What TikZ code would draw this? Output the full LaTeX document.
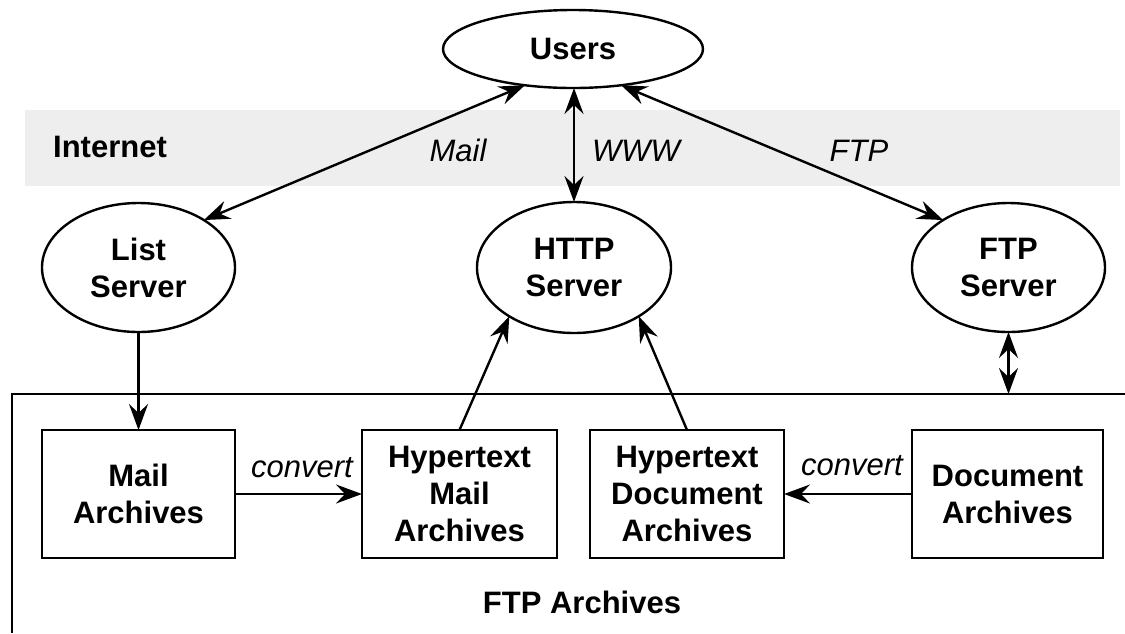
\documentclass[tikz,border=0pt]{standalone}
\usepackage{fontspec}
\setmainfont{Liberation Sans}
\usetikzlibrary{shapes.geometric,arrows.meta}
\definecolor{bandgray}{HTML}{EEEEEE}
\begin{document}
\begin{tikzpicture}[x=1pt,y=-1pt,
  line width=2.4pt,
  >={Stealth[length=26pt,width=19pt,inset=9pt]},
  bigtext/.style={font=\bfseries\fontsize{31}{37}\selectfont, align=center},
  bubble/.style={ellipse, draw, line width=2.4pt, inner sep=0pt, outer sep=0pt, bigtext},
  archive/.style={rectangle, draw, line width=2.4pt, minimum width=193pt, minimum height=128pt,
                  inner sep=0pt, outer sep=0pt, bigtext},
  caption/.style={anchor=base, inner sep=0pt, font=\bfseries\fontsize{31}{37}\selectfont},
  flowlabel/.style={anchor=base, inner sep=0pt, font=\itshape\fontsize{31}{37}\selectfont}]
\useasboundingbox (0,0) rectangle (1125,633);

% internet band
\fill[bandgray] (25,110) rectangle (1120,186);
\node[caption] (internet) at (110,157) {Internet};

% users and servers
\node[bubble, minimum width=260pt, minimum height=78pt] (users) at (573,49) {Users};
\node[bubble, minimum width=193pt, minimum height=129pt] (list) at (138.5,267.5) {List\\Server};
\node[bubble, minimum width=194pt, minimum height=131pt] (http) at (574,267.5) {HTTP\\Server};
\node[bubble, minimum width=193pt, minimum height=129pt] (ftp) at (1008.5,267.5) {FTP\\Server};

% protocol links
\draw[<->] (users.217) -- (list.36);
\draw[<->] (http.north |- users.south) -- (http.north);
\draw[<->] (users.323) -- (ftp.144);
\node[flowlabel] (maillbl) at (458,161) {Mail};
\node[flowlabel] (wwwlbl) at (636,161) {WWW};
\node[flowlabel] (ftplbl) at (859,161) {FTP};

% FTP archives frame
\draw (12,633) -- (12,394) -- (1125,394);
\coordinate (ftptop) at (1008.5,394);
\node[caption] (archlbl) at (582,613) {FTP Archives};

% archives
\node[archive] (mailarch) at (138.5,494) {Mail\\Archives};
\node[archive, minimum width=195pt] (hma) at (459.5,494) {Hypertext\\Mail\\Archives};
\node[archive, minimum width=194pt] (hda) at (687,494) {Hypertext\\Document\\Archives};
\node[archive, minimum width=191pt] (docarch) at (1007.5,494) {Document\\Archives};

% data flow
\draw[<->] (ftp.south) -- (ftptop);
\draw[->] (list.south) -- (mailarch.north);
\draw[->] (hma.north) -- (http.217);
\draw[->] (hda.north) -- (http.323);
\draw[->] (mailarch.east) -- (hma.west);
\draw[->] (docarch.west) -- (hda.east);
\node[flowlabel] (conv1) at (302,477) {convert};
\node[flowlabel] (conv2) at (852,475) {convert};
\end{tikzpicture}
\end{document}
